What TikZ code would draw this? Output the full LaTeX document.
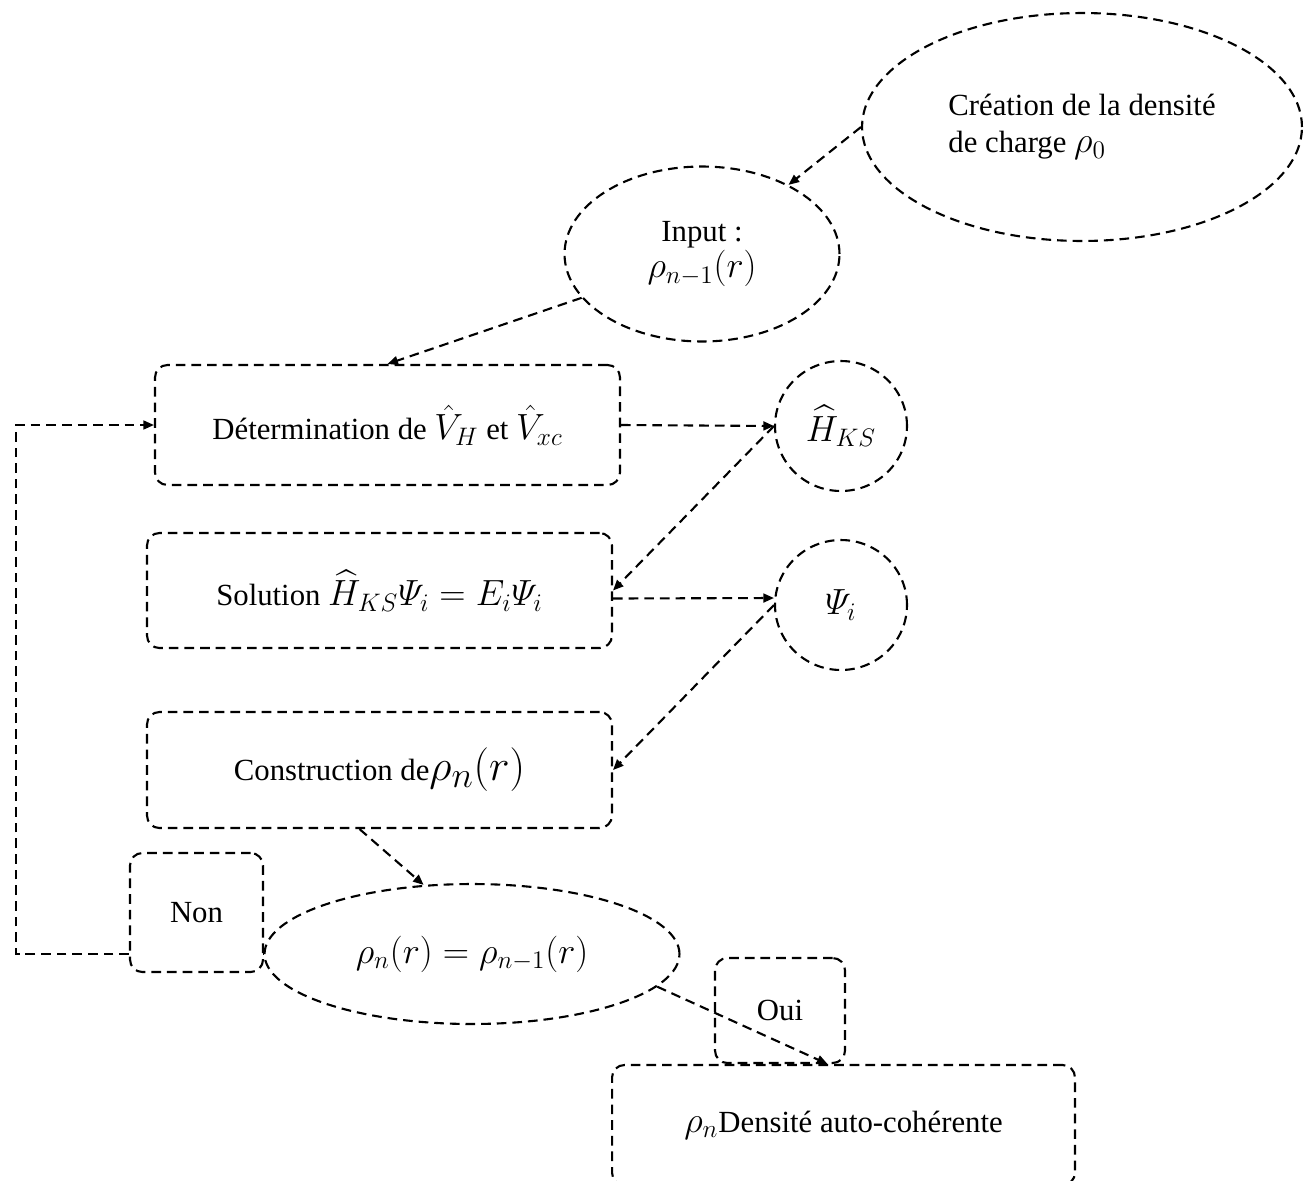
\documentclass[tikz,border=0pt]{standalone}
\usepackage{amsmath}
\usepackage{fontspec}
\setmainfont{Liberation Serif}
\DeclareMathSizes{17.5}{20.5}{15}{11}
\DeclareMathSizes{24}{28}{20}{14}
\usetikzlibrary{arrows.meta,shapes.geometric}

\begin{document}
\begin{tikzpicture}[
    x=0.02cm, y=-0.02cm,
    >={Triangle[length=6pt,width=5pt]},
    every node/.style={font=\fontsize{17.5}{21}\selectfont},
    trait/.style={line width=1.2pt, dash pattern=on 5.5pt off 3.4pt},
    bulle/.style={
        ellipse,
        trait,
        inner sep=0pt,
        align=center
    },
    boite/.style={
        rectangle,
        rounded corners=7pt,
        trait,
        inner sep=0pt,
        align=center
    },
    lien/.style={->, trait}
]
\useasboundingbox (0,0) rectangle (1307,1180);
\clip (0,0) rectangle (1307,1180);

% Initialisation
\node[bulle, draw, minimum width=8.8cm, minimum height=4.56cm, align=left] (creation) at (1082,127)
  {Création de la densité\\de charge $\rho_0$};
\node[bulle, draw, minimum width=5.5cm, minimum height=3.5cm] (input) at (702,254)
  {Input :\\$\rho_{n-1}(r)$};

% Cycle auto-cohérent
\node[boite, draw, minimum width=9.3cm, minimum height=2.4cm] (det) at (387.5,425)
  {Détermination de $\hat{V}_H$ et $\hat{V}_{xc}$};
\node[bulle, draw, minimum width=2.64cm, minimum height=2.6cm] (hks) at (841,426)
  {$\widehat{H}_{KS}$};
\node[boite, draw, minimum width=9.3cm, minimum height=2.3cm] (sol) at (379.5,590.5)
  {Solution $\widehat{H}_{KS}\varPsi_i = E_i\varPsi_i$};
\node[bulle, draw, minimum width=2.64cm, minimum height=2.6cm] (psi) at (841,605)
  {$\varPsi_i$};
\node[boite, draw, minimum width=9.3cm, minimum height=2.32cm] (cons) at (379.5,770)
  {Construction de{\fontsize{24}{28}\selectfont$\rho_n(r)$}};

% Test de convergence
\node[bulle, draw, minimum width=8.3cm, minimum height=2.8cm] (eq) at (472,954)
  {$\rho_n(r) = \rho_{n-1}(r)$};
\node[boite, draw, minimum width=2.66cm, minimum height=2.38cm] (non) at (196.5,912.5) {Non};
\node[boite, draw, minimum width=2.6cm, minimum height=2.1cm] (oui) at (780,1010.5) {Oui};
\node[boite, draw, minimum width=9.26cm, minimum height=2.4cm] (fin) at (843.5,1125)
  {$\rho_n$Densité auto-cohérente};

% Liaisons
\draw[lien] (creation.west) -- (input);
\draw[lien] (input.200) -- (det.north);
\draw[lien] (det.east) -- (hks.west);
\draw[lien] (hks.west) -- (sol.east);
\draw[lien] ([yshift=-0.16cm]sol.east) -- ([yshift=0.14cm]psi.west);
\draw[lien] (psi.west) -- (cons.east);
\draw[lien] ([xshift=-0.4cm]cons.south) -- (eq.125);

% Retour si non convergé
\draw[trait] (eq.west) -- (non.east |- eq.west);
\draw[lien] (non.west |- eq.west) -- ++(-113,0) |- (det.west);

% Sortie
\draw[lien] (eq.-10) -- ([xshift=-0.32cm]fin.north);

\end{tikzpicture}
\end{document}
